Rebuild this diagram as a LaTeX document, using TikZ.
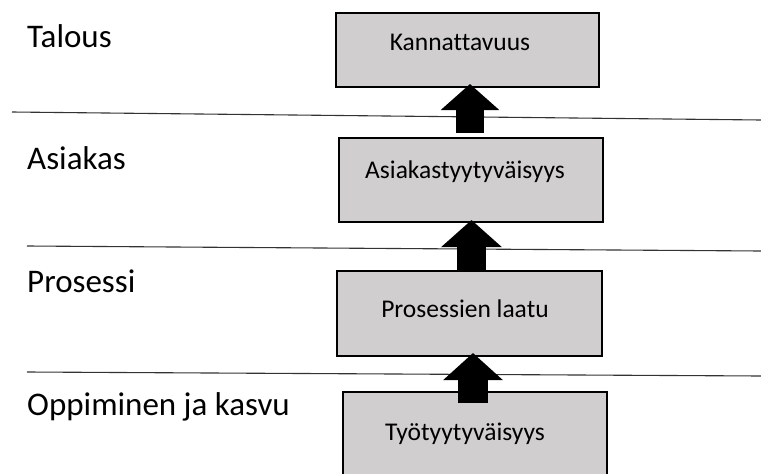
\documentclass[tikz,border=0pt]{standalone}
\usepackage{fontspec}
\setmainfont[Ligatures=NoCommon]{Carlito}
\usetikzlibrary{arrows.meta}
\definecolor{boxgray}{HTML}{D0CECE}
\tikzset{
  levelbox/.style={draw=black, line width=2.6pt, fill=boxgray, rectangle, inner sep=0pt},
  boxtext/.style={anchor=base, inner sep=0pt, font=\fontsize{25.5}{30}\selectfont},
  leveltext/.style={anchor=base west, inner sep=0pt, font=\fontsize{33}{39}\selectfont},
  divider/.style={draw=black!80, line width=1.1pt},
  uparrow/.style={line width=#1, line cap=butt, draw=black},
}
\begin{document}
\begin{tikzpicture}[x=1pt,y=-1pt]
\useasboundingbox (0,0) rectangle (761,474);
\clip (0,0) rectangle (761,474);
% dividers
\coordinate (l1a) at (12,112);  \coordinate (l1b) at (761,120);
\coordinate (l2a) at (27,246);  \coordinate (l2b) at (761,251);
\coordinate (l3a) at (27,372);  \coordinate (l3b) at (761,376);
\draw[divider] (l1a) -- (l1b);
\draw[divider] (l2a) -- (l2b);
\draw[divider] (l3a) -- (l3b);
% level labels
\node[leveltext] (lt1) at (27,47) {Talous};
\node[leveltext] (lt2) at (27,169) {Asiakas};
\node[leveltext] (lt3) at (27,292) {Prosessi};
\node[leveltext] (lt4) at (27,415) {Oppiminen ja kasvu};
% boxes
\node[levelbox, minimum width=263pt, minimum height=74pt] (b1) at (467.5,50) {};
\node[levelbox, minimum width=264pt, minimum height=84pt] (b2) at (471,180) {};
\node[levelbox, minimum width=265pt, minimum height=85pt] (b3) at (469.5,313.5) {};
\node[levelbox, minimum width=264pt, minimum height=110pt] (b4) at (475,447) {};
% box texts
\node[boxtext] (t1) at (460,50) {Kannattavuus};
\node[boxtext] (t2) at (465,178) {Asiakastyytyväisyys};
\node[boxtext] (t3) at (465,317) {Prosessien laatu};
\node[boxtext] (t4) at (465,440) {Työtyytyväisyys};
% arrows
\coordinate (a1s) at (470,133); \coordinate (a1e) at (470,84);
\coordinate (a2s) at (471.5,270); \coordinate (a2e) at (471.5,220);
\coordinate (a3s) at (473,403); \coordinate (a3e) at (473,353);
\draw[uparrow=28pt, -{Triangle[length=26pt,width=57pt]}] (a1s) -- (a1e);
\draw[uparrow=29pt, -{Triangle[length=27pt,width=59pt]}] (a2s) -- (a2e);
\draw[uparrow=30pt, -{Triangle[length=27pt,width=58pt]}] (a3s) -- (a3e);
\end{tikzpicture}
\end{document}
